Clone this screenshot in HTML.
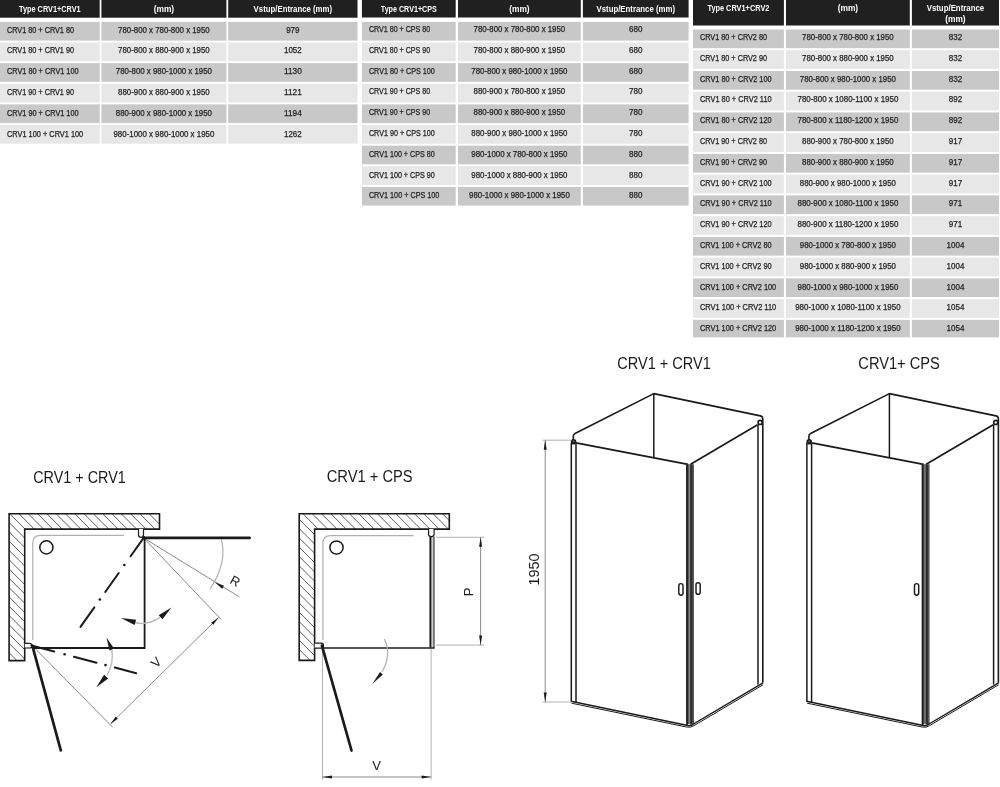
<!DOCTYPE html>
<html lang="cs"><head><meta charset="utf-8"><title>CRV1 – rozměry / dimensions</title>
<style>
html,body{margin:0;padding:0;background:#fff;}
body{width:1000px;height:787px;overflow:hidden;}
svg{display:block;}
svg text{font-family:"Liberation Sans",Arial,Helvetica,sans-serif;}
svg{filter:grayscale(1);}
</style></head><body>
<svg width="1000" height="787" viewBox="0 0 1000 787">
<rect width="1000" height="787" fill="#ffffff"/>
<g class="tbl">
<rect x="0.00" y="0.00" width="99.70" height="17.70" fill="#231f20"/>
<rect x="101.40" y="0.00" width="125.00" height="17.70" fill="#231f20"/>
<rect x="228.20" y="0.00" width="129.30" height="17.70" fill="#231f20"/>
<text x="49.85" y="12.20" font-size="8.3" text-anchor="middle" fill="#fff" font-weight="bold" textLength="61.5" lengthAdjust="spacingAndGlyphs">Type CRV1+CRV1</text>
<text x="163.90" y="12.20" font-size="8.3" text-anchor="middle" fill="#fff" font-weight="bold" textLength="20.5" lengthAdjust="spacingAndGlyphs">(mm)</text>
<text x="292.85" y="12.20" font-size="8.3" text-anchor="middle" fill="#fff" font-weight="bold" textLength="78.5" lengthAdjust="spacingAndGlyphs">Vstup/Entrance (mm)</text>
<rect x="0.00" y="21.90" width="99.70" height="18.70" fill="#c7c8ca"/>
<rect x="101.40" y="21.90" width="125.00" height="18.70" fill="#c7c8ca"/>
<rect x="228.20" y="21.90" width="129.30" height="18.70" fill="#c7c8ca"/>
<text x="7.00" y="32.50" font-size="8.3" text-anchor="start" fill="#231f20" font-weight="normal" stroke="#231f20" stroke-width="0.25" textLength="67.0" lengthAdjust="spacingAndGlyphs">CRV1 80 + CRV1 80</text>
<text x="163.90" y="32.50" font-size="8.3" text-anchor="middle" fill="#231f20" font-weight="normal" stroke="#231f20" stroke-width="0.25" textLength="91.6" lengthAdjust="spacingAndGlyphs">780-800 x 780-800 x 1950</text>
<text x="292.85" y="32.50" font-size="8.3" text-anchor="middle" fill="#231f20" font-weight="normal" stroke="#231f20" stroke-width="0.25" textLength="13.4" lengthAdjust="spacingAndGlyphs">979</text>
<rect x="0.00" y="42.52" width="99.70" height="18.70" fill="#e6e7e8"/>
<rect x="101.40" y="42.52" width="125.00" height="18.70" fill="#e6e7e8"/>
<rect x="228.20" y="42.52" width="129.30" height="18.70" fill="#e6e7e8"/>
<text x="7.00" y="53.30" font-size="8.3" text-anchor="start" fill="#231f20" font-weight="normal" stroke="#231f20" stroke-width="0.25" textLength="67.0" lengthAdjust="spacingAndGlyphs">CRV1 80 + CRV1 90</text>
<text x="163.90" y="53.30" font-size="8.3" text-anchor="middle" fill="#231f20" font-weight="normal" stroke="#231f20" stroke-width="0.25" textLength="91.6" lengthAdjust="spacingAndGlyphs">780-800 x 880-900 x 1950</text>
<text x="292.85" y="53.30" font-size="8.3" text-anchor="middle" fill="#231f20" font-weight="normal" stroke="#231f20" stroke-width="0.25" textLength="17.8" lengthAdjust="spacingAndGlyphs">1052</text>
<rect x="0.00" y="63.14" width="99.70" height="18.70" fill="#c7c8ca"/>
<rect x="101.40" y="63.14" width="125.00" height="18.70" fill="#c7c8ca"/>
<rect x="228.20" y="63.14" width="129.30" height="18.70" fill="#c7c8ca"/>
<text x="7.00" y="74.10" font-size="8.3" text-anchor="start" fill="#231f20" font-weight="normal" stroke="#231f20" stroke-width="0.25" textLength="71.6" lengthAdjust="spacingAndGlyphs">CRV1 80 + CRV1 100</text>
<text x="163.90" y="74.10" font-size="8.3" text-anchor="middle" fill="#231f20" font-weight="normal" stroke="#231f20" stroke-width="0.25" textLength="96.2" lengthAdjust="spacingAndGlyphs">780-800 x 980-1000 x 1950</text>
<text x="292.85" y="74.10" font-size="8.3" text-anchor="middle" fill="#231f20" font-weight="normal" stroke="#231f20" stroke-width="0.25" textLength="17.8" lengthAdjust="spacingAndGlyphs">1130</text>
<rect x="0.00" y="83.76" width="99.70" height="18.70" fill="#e6e7e8"/>
<rect x="101.40" y="83.76" width="125.00" height="18.70" fill="#e6e7e8"/>
<rect x="228.20" y="83.76" width="129.30" height="18.70" fill="#e6e7e8"/>
<text x="7.00" y="94.90" font-size="8.3" text-anchor="start" fill="#231f20" font-weight="normal" stroke="#231f20" stroke-width="0.25" textLength="67.0" lengthAdjust="spacingAndGlyphs">CRV1 90 + CRV1 90</text>
<text x="163.90" y="94.90" font-size="8.3" text-anchor="middle" fill="#231f20" font-weight="normal" stroke="#231f20" stroke-width="0.25" textLength="91.6" lengthAdjust="spacingAndGlyphs">880-900 x 880-900 x 1950</text>
<text x="292.85" y="94.90" font-size="8.3" text-anchor="middle" fill="#231f20" font-weight="normal" stroke="#231f20" stroke-width="0.25" textLength="17.8" lengthAdjust="spacingAndGlyphs">1121</text>
<rect x="0.00" y="104.38" width="99.70" height="18.70" fill="#c7c8ca"/>
<rect x="101.40" y="104.38" width="125.00" height="18.70" fill="#c7c8ca"/>
<rect x="228.20" y="104.38" width="129.30" height="18.70" fill="#c7c8ca"/>
<text x="7.00" y="115.70" font-size="8.3" text-anchor="start" fill="#231f20" font-weight="normal" stroke="#231f20" stroke-width="0.25" textLength="71.6" lengthAdjust="spacingAndGlyphs">CRV1 90 + CRV1 100</text>
<text x="163.90" y="115.70" font-size="8.3" text-anchor="middle" fill="#231f20" font-weight="normal" stroke="#231f20" stroke-width="0.25" textLength="96.2" lengthAdjust="spacingAndGlyphs">880-900 x 980-1000 x 1950</text>
<text x="292.85" y="115.70" font-size="8.3" text-anchor="middle" fill="#231f20" font-weight="normal" stroke="#231f20" stroke-width="0.25" textLength="17.8" lengthAdjust="spacingAndGlyphs">1194</text>
<rect x="0.00" y="125.00" width="99.70" height="18.70" fill="#e6e7e8"/>
<rect x="101.40" y="125.00" width="125.00" height="18.70" fill="#e6e7e8"/>
<rect x="228.20" y="125.00" width="129.30" height="18.70" fill="#e6e7e8"/>
<text x="7.00" y="136.50" font-size="8.3" text-anchor="start" fill="#231f20" font-weight="normal" stroke="#231f20" stroke-width="0.25" textLength="76.2" lengthAdjust="spacingAndGlyphs">CRV1 100 + CRV1 100</text>
<text x="163.90" y="136.50" font-size="8.3" text-anchor="middle" fill="#231f20" font-weight="normal" stroke="#231f20" stroke-width="0.25" textLength="100.8" lengthAdjust="spacingAndGlyphs">980-1000 x 980-1000 x 1950</text>
<text x="292.85" y="136.50" font-size="8.3" text-anchor="middle" fill="#231f20" font-weight="normal" stroke="#231f20" stroke-width="0.25" textLength="17.8" lengthAdjust="spacingAndGlyphs">1262</text>
<rect x="361.90" y="0.00" width="93.80" height="17.50" fill="#231f20"/>
<rect x="458.00" y="0.00" width="122.80" height="17.50" fill="#231f20"/>
<rect x="582.90" y="0.00" width="105.70" height="17.50" fill="#231f20"/>
<text x="408.80" y="12.00" font-size="8.3" text-anchor="middle" fill="#fff" font-weight="bold" textLength="56.0" lengthAdjust="spacingAndGlyphs">Type CRV1+CPS</text>
<text x="519.40" y="12.00" font-size="8.3" text-anchor="middle" fill="#fff" font-weight="bold" textLength="20.5" lengthAdjust="spacingAndGlyphs">(mm)</text>
<text x="635.75" y="12.00" font-size="8.3" text-anchor="middle" fill="#fff" font-weight="bold" textLength="78.5" lengthAdjust="spacingAndGlyphs">Vstup/Entrance (mm)</text>
<rect x="361.90" y="21.90" width="93.80" height="18.70" fill="#c7c8ca"/>
<rect x="458.00" y="21.90" width="122.80" height="18.70" fill="#c7c8ca"/>
<rect x="582.90" y="21.90" width="105.70" height="18.70" fill="#c7c8ca"/>
<text x="368.90" y="31.90" font-size="8.3" text-anchor="start" fill="#231f20" font-weight="normal" stroke="#231f20" stroke-width="0.25" textLength="61.3" lengthAdjust="spacingAndGlyphs">CRV1 80 + CPS 80</text>
<text x="519.40" y="31.90" font-size="8.3" text-anchor="middle" fill="#231f20" font-weight="normal" stroke="#231f20" stroke-width="0.25" textLength="91.6" lengthAdjust="spacingAndGlyphs">780-800 x 780-800 x 1950</text>
<text x="635.75" y="31.90" font-size="8.3" text-anchor="middle" fill="#231f20" font-weight="normal" stroke="#231f20" stroke-width="0.25" textLength="13.4" lengthAdjust="spacingAndGlyphs">680</text>
<rect x="361.90" y="42.52" width="93.80" height="18.70" fill="#e6e7e8"/>
<rect x="458.00" y="42.52" width="122.80" height="18.70" fill="#e6e7e8"/>
<rect x="582.90" y="42.52" width="105.70" height="18.70" fill="#e6e7e8"/>
<text x="368.90" y="52.70" font-size="8.3" text-anchor="start" fill="#231f20" font-weight="normal" stroke="#231f20" stroke-width="0.25" textLength="61.3" lengthAdjust="spacingAndGlyphs">CRV1 80 + CPS 90</text>
<text x="519.40" y="52.70" font-size="8.3" text-anchor="middle" fill="#231f20" font-weight="normal" stroke="#231f20" stroke-width="0.25" textLength="91.6" lengthAdjust="spacingAndGlyphs">780-800 x 880-900 x 1950</text>
<text x="635.75" y="52.70" font-size="8.3" text-anchor="middle" fill="#231f20" font-weight="normal" stroke="#231f20" stroke-width="0.25" textLength="13.4" lengthAdjust="spacingAndGlyphs">680</text>
<rect x="361.90" y="63.15" width="93.80" height="18.70" fill="#c7c8ca"/>
<rect x="458.00" y="63.15" width="122.80" height="18.70" fill="#c7c8ca"/>
<rect x="582.90" y="63.15" width="105.70" height="18.70" fill="#c7c8ca"/>
<text x="368.90" y="73.50" font-size="8.3" text-anchor="start" fill="#231f20" font-weight="normal" stroke="#231f20" stroke-width="0.25" textLength="65.9" lengthAdjust="spacingAndGlyphs">CRV1 80 + CPS 100</text>
<text x="519.40" y="73.50" font-size="8.3" text-anchor="middle" fill="#231f20" font-weight="normal" stroke="#231f20" stroke-width="0.25" textLength="96.2" lengthAdjust="spacingAndGlyphs">780-800 x 980-1000 x 1950</text>
<text x="635.75" y="73.50" font-size="8.3" text-anchor="middle" fill="#231f20" font-weight="normal" stroke="#231f20" stroke-width="0.25" textLength="13.4" lengthAdjust="spacingAndGlyphs">680</text>
<rect x="361.90" y="83.78" width="93.80" height="18.70" fill="#e6e7e8"/>
<rect x="458.00" y="83.78" width="122.80" height="18.70" fill="#e6e7e8"/>
<rect x="582.90" y="83.78" width="105.70" height="18.70" fill="#e6e7e8"/>
<text x="368.90" y="94.30" font-size="8.3" text-anchor="start" fill="#231f20" font-weight="normal" stroke="#231f20" stroke-width="0.25" textLength="61.3" lengthAdjust="spacingAndGlyphs">CRV1 90 + CPS 80</text>
<text x="519.40" y="94.30" font-size="8.3" text-anchor="middle" fill="#231f20" font-weight="normal" stroke="#231f20" stroke-width="0.25" textLength="91.6" lengthAdjust="spacingAndGlyphs">880-900 x 780-800 x 1950</text>
<text x="635.75" y="94.30" font-size="8.3" text-anchor="middle" fill="#231f20" font-weight="normal" stroke="#231f20" stroke-width="0.25" textLength="13.4" lengthAdjust="spacingAndGlyphs">780</text>
<rect x="361.90" y="104.40" width="93.80" height="18.70" fill="#c7c8ca"/>
<rect x="458.00" y="104.40" width="122.80" height="18.70" fill="#c7c8ca"/>
<rect x="582.90" y="104.40" width="105.70" height="18.70" fill="#c7c8ca"/>
<text x="368.90" y="115.10" font-size="8.3" text-anchor="start" fill="#231f20" font-weight="normal" stroke="#231f20" stroke-width="0.25" textLength="61.3" lengthAdjust="spacingAndGlyphs">CRV1 90 + CPS 90</text>
<text x="519.40" y="115.10" font-size="8.3" text-anchor="middle" fill="#231f20" font-weight="normal" stroke="#231f20" stroke-width="0.25" textLength="91.6" lengthAdjust="spacingAndGlyphs">880-900 x 880-900 x 1950</text>
<text x="635.75" y="115.10" font-size="8.3" text-anchor="middle" fill="#231f20" font-weight="normal" stroke="#231f20" stroke-width="0.25" textLength="13.4" lengthAdjust="spacingAndGlyphs">780</text>
<rect x="361.90" y="125.03" width="93.80" height="18.70" fill="#e6e7e8"/>
<rect x="458.00" y="125.03" width="122.80" height="18.70" fill="#e6e7e8"/>
<rect x="582.90" y="125.03" width="105.70" height="18.70" fill="#e6e7e8"/>
<text x="368.90" y="135.90" font-size="8.3" text-anchor="start" fill="#231f20" font-weight="normal" stroke="#231f20" stroke-width="0.25" textLength="65.9" lengthAdjust="spacingAndGlyphs">CRV1 90 + CPS 100</text>
<text x="519.40" y="135.90" font-size="8.3" text-anchor="middle" fill="#231f20" font-weight="normal" stroke="#231f20" stroke-width="0.25" textLength="96.2" lengthAdjust="spacingAndGlyphs">880-900 x 980-1000 x 1950</text>
<text x="635.75" y="135.90" font-size="8.3" text-anchor="middle" fill="#231f20" font-weight="normal" stroke="#231f20" stroke-width="0.25" textLength="13.4" lengthAdjust="spacingAndGlyphs">780</text>
<rect x="361.90" y="145.65" width="93.80" height="18.70" fill="#c7c8ca"/>
<rect x="458.00" y="145.65" width="122.80" height="18.70" fill="#c7c8ca"/>
<rect x="582.90" y="145.65" width="105.70" height="18.70" fill="#c7c8ca"/>
<text x="368.90" y="156.70" font-size="8.3" text-anchor="start" fill="#231f20" font-weight="normal" stroke="#231f20" stroke-width="0.25" textLength="65.9" lengthAdjust="spacingAndGlyphs">CRV1 100 + CPS 80</text>
<text x="519.40" y="156.70" font-size="8.3" text-anchor="middle" fill="#231f20" font-weight="normal" stroke="#231f20" stroke-width="0.25" textLength="96.2" lengthAdjust="spacingAndGlyphs">980-1000 x 780-800 x 1950</text>
<text x="635.75" y="156.70" font-size="8.3" text-anchor="middle" fill="#231f20" font-weight="normal" stroke="#231f20" stroke-width="0.25" textLength="13.4" lengthAdjust="spacingAndGlyphs">880</text>
<rect x="361.90" y="166.28" width="93.80" height="18.70" fill="#e6e7e8"/>
<rect x="458.00" y="166.28" width="122.80" height="18.70" fill="#e6e7e8"/>
<rect x="582.90" y="166.28" width="105.70" height="18.70" fill="#e6e7e8"/>
<text x="368.90" y="177.50" font-size="8.3" text-anchor="start" fill="#231f20" font-weight="normal" stroke="#231f20" stroke-width="0.25" textLength="65.9" lengthAdjust="spacingAndGlyphs">CRV1 100 + CPS 90</text>
<text x="519.40" y="177.50" font-size="8.3" text-anchor="middle" fill="#231f20" font-weight="normal" stroke="#231f20" stroke-width="0.25" textLength="96.2" lengthAdjust="spacingAndGlyphs">980-1000 x 880-900 x 1950</text>
<text x="635.75" y="177.50" font-size="8.3" text-anchor="middle" fill="#231f20" font-weight="normal" stroke="#231f20" stroke-width="0.25" textLength="13.4" lengthAdjust="spacingAndGlyphs">880</text>
<rect x="361.90" y="186.90" width="93.80" height="18.70" fill="#c7c8ca"/>
<rect x="458.00" y="186.90" width="122.80" height="18.70" fill="#c7c8ca"/>
<rect x="582.90" y="186.90" width="105.70" height="18.70" fill="#c7c8ca"/>
<text x="368.90" y="198.30" font-size="8.3" text-anchor="start" fill="#231f20" font-weight="normal" stroke="#231f20" stroke-width="0.25" textLength="70.5" lengthAdjust="spacingAndGlyphs">CRV1 100 + CPS 100</text>
<text x="519.40" y="198.30" font-size="8.3" text-anchor="middle" fill="#231f20" font-weight="normal" stroke="#231f20" stroke-width="0.25" textLength="100.8" lengthAdjust="spacingAndGlyphs">980-1000 x 980-1000 x 1950</text>
<text x="635.75" y="198.30" font-size="8.3" text-anchor="middle" fill="#231f20" font-weight="normal" stroke="#231f20" stroke-width="0.25" textLength="13.4" lengthAdjust="spacingAndGlyphs">880</text>
<rect x="693.00" y="0.00" width="90.90" height="25.50" fill="#231f20"/>
<rect x="786.00" y="0.00" width="123.80" height="25.50" fill="#231f20"/>
<rect x="911.90" y="0.00" width="87.10" height="25.50" fill="#231f20"/>
<text x="738.45" y="11.00" font-size="8.3" text-anchor="middle" fill="#fff" font-weight="bold" textLength="62.0" lengthAdjust="spacingAndGlyphs">Type CRV1+CRV2</text>
<text x="847.90" y="11.00" font-size="8.3" text-anchor="middle" fill="#fff" font-weight="bold" textLength="20.5" lengthAdjust="spacingAndGlyphs">(mm)</text>
<text x="955.45" y="11.20" font-size="8.3" text-anchor="middle" fill="#fff" font-weight="bold" textLength="57.6" lengthAdjust="spacingAndGlyphs">Vstup/Entrance</text>
<text x="955.45" y="21.80" font-size="8.3" text-anchor="middle" fill="#fff" font-weight="bold" textLength="20.4" lengthAdjust="spacingAndGlyphs">(mm)</text>
<rect x="693.00" y="29.50" width="90.90" height="18.70" fill="#c7c8ca"/>
<rect x="786.00" y="29.50" width="123.80" height="18.70" fill="#c7c8ca"/>
<rect x="911.90" y="29.50" width="87.10" height="18.70" fill="#c7c8ca"/>
<text x="700.00" y="39.90" font-size="8.3" text-anchor="start" fill="#231f20" font-weight="normal" stroke="#231f20" stroke-width="0.25" textLength="67.0" lengthAdjust="spacingAndGlyphs">CRV1 80 + CRV2 80</text>
<text x="847.90" y="39.90" font-size="8.3" text-anchor="middle" fill="#231f20" font-weight="normal" stroke="#231f20" stroke-width="0.25" textLength="91.6" lengthAdjust="spacingAndGlyphs">780-800 x 780-800 x 1950</text>
<text x="955.45" y="39.90" font-size="8.3" text-anchor="middle" fill="#231f20" font-weight="normal" stroke="#231f20" stroke-width="0.25" textLength="13.4" lengthAdjust="spacingAndGlyphs">832</text>
<rect x="693.00" y="50.24" width="90.90" height="18.70" fill="#e6e7e8"/>
<rect x="786.00" y="50.24" width="123.80" height="18.70" fill="#e6e7e8"/>
<rect x="911.90" y="50.24" width="87.10" height="18.70" fill="#e6e7e8"/>
<text x="700.00" y="60.71" font-size="8.3" text-anchor="start" fill="#231f20" font-weight="normal" stroke="#231f20" stroke-width="0.25" textLength="67.0" lengthAdjust="spacingAndGlyphs">CRV1 80 + CRV2 90</text>
<text x="847.90" y="60.71" font-size="8.3" text-anchor="middle" fill="#231f20" font-weight="normal" stroke="#231f20" stroke-width="0.25" textLength="91.6" lengthAdjust="spacingAndGlyphs">780-800 x 880-900 x 1950</text>
<text x="955.45" y="60.71" font-size="8.3" text-anchor="middle" fill="#231f20" font-weight="normal" stroke="#231f20" stroke-width="0.25" textLength="13.4" lengthAdjust="spacingAndGlyphs">832</text>
<rect x="693.00" y="70.98" width="90.90" height="18.70" fill="#c7c8ca"/>
<rect x="786.00" y="70.98" width="123.80" height="18.70" fill="#c7c8ca"/>
<rect x="911.90" y="70.98" width="87.10" height="18.70" fill="#c7c8ca"/>
<text x="700.00" y="81.52" font-size="8.3" text-anchor="start" fill="#231f20" font-weight="normal" stroke="#231f20" stroke-width="0.25" textLength="71.6" lengthAdjust="spacingAndGlyphs">CRV1 80 + CRV2 100</text>
<text x="847.90" y="81.52" font-size="8.3" text-anchor="middle" fill="#231f20" font-weight="normal" stroke="#231f20" stroke-width="0.25" textLength="96.2" lengthAdjust="spacingAndGlyphs">780-800 x 980-1000 x 1950</text>
<text x="955.45" y="81.52" font-size="8.3" text-anchor="middle" fill="#231f20" font-weight="normal" stroke="#231f20" stroke-width="0.25" textLength="13.4" lengthAdjust="spacingAndGlyphs">832</text>
<rect x="693.00" y="91.72" width="90.90" height="18.70" fill="#e6e7e8"/>
<rect x="786.00" y="91.72" width="123.80" height="18.70" fill="#e6e7e8"/>
<rect x="911.90" y="91.72" width="87.10" height="18.70" fill="#e6e7e8"/>
<text x="700.00" y="102.33" font-size="8.3" text-anchor="start" fill="#231f20" font-weight="normal" stroke="#231f20" stroke-width="0.25" textLength="71.6" lengthAdjust="spacingAndGlyphs">CRV1 80 + CRV2 110</text>
<text x="847.90" y="102.33" font-size="8.3" text-anchor="middle" fill="#231f20" font-weight="normal" stroke="#231f20" stroke-width="0.25" textLength="100.8" lengthAdjust="spacingAndGlyphs">780-800 x 1080-1100 x 1950</text>
<text x="955.45" y="102.33" font-size="8.3" text-anchor="middle" fill="#231f20" font-weight="normal" stroke="#231f20" stroke-width="0.25" textLength="13.4" lengthAdjust="spacingAndGlyphs">892</text>
<rect x="693.00" y="112.46" width="90.90" height="18.70" fill="#c7c8ca"/>
<rect x="786.00" y="112.46" width="123.80" height="18.70" fill="#c7c8ca"/>
<rect x="911.90" y="112.46" width="87.10" height="18.70" fill="#c7c8ca"/>
<text x="700.00" y="123.14" font-size="8.3" text-anchor="start" fill="#231f20" font-weight="normal" stroke="#231f20" stroke-width="0.25" textLength="71.6" lengthAdjust="spacingAndGlyphs">CRV1 80 + CRV2 120</text>
<text x="847.90" y="123.14" font-size="8.3" text-anchor="middle" fill="#231f20" font-weight="normal" stroke="#231f20" stroke-width="0.25" textLength="100.8" lengthAdjust="spacingAndGlyphs">780-800 x 1180-1200 x 1950</text>
<text x="955.45" y="123.14" font-size="8.3" text-anchor="middle" fill="#231f20" font-weight="normal" stroke="#231f20" stroke-width="0.25" textLength="13.4" lengthAdjust="spacingAndGlyphs">892</text>
<rect x="693.00" y="133.20" width="90.90" height="18.70" fill="#e6e7e8"/>
<rect x="786.00" y="133.20" width="123.80" height="18.70" fill="#e6e7e8"/>
<rect x="911.90" y="133.20" width="87.10" height="18.70" fill="#e6e7e8"/>
<text x="700.00" y="143.95" font-size="8.3" text-anchor="start" fill="#231f20" font-weight="normal" stroke="#231f20" stroke-width="0.25" textLength="67.0" lengthAdjust="spacingAndGlyphs">CRV1 90 + CRV2 80</text>
<text x="847.90" y="143.95" font-size="8.3" text-anchor="middle" fill="#231f20" font-weight="normal" stroke="#231f20" stroke-width="0.25" textLength="91.6" lengthAdjust="spacingAndGlyphs">880-900 x 780-800 x 1950</text>
<text x="955.45" y="143.95" font-size="8.3" text-anchor="middle" fill="#231f20" font-weight="normal" stroke="#231f20" stroke-width="0.25" textLength="13.4" lengthAdjust="spacingAndGlyphs">917</text>
<rect x="693.00" y="153.94" width="90.90" height="18.70" fill="#c7c8ca"/>
<rect x="786.00" y="153.94" width="123.80" height="18.70" fill="#c7c8ca"/>
<rect x="911.90" y="153.94" width="87.10" height="18.70" fill="#c7c8ca"/>
<text x="700.00" y="164.76" font-size="8.3" text-anchor="start" fill="#231f20" font-weight="normal" stroke="#231f20" stroke-width="0.25" textLength="67.0" lengthAdjust="spacingAndGlyphs">CRV1 90 + CRV2 90</text>
<text x="847.90" y="164.76" font-size="8.3" text-anchor="middle" fill="#231f20" font-weight="normal" stroke="#231f20" stroke-width="0.25" textLength="91.6" lengthAdjust="spacingAndGlyphs">880-900 x 880-900 x 1950</text>
<text x="955.45" y="164.76" font-size="8.3" text-anchor="middle" fill="#231f20" font-weight="normal" stroke="#231f20" stroke-width="0.25" textLength="13.4" lengthAdjust="spacingAndGlyphs">917</text>
<rect x="693.00" y="174.68" width="90.90" height="18.70" fill="#e6e7e8"/>
<rect x="786.00" y="174.68" width="123.80" height="18.70" fill="#e6e7e8"/>
<rect x="911.90" y="174.68" width="87.10" height="18.70" fill="#e6e7e8"/>
<text x="700.00" y="185.57" font-size="8.3" text-anchor="start" fill="#231f20" font-weight="normal" stroke="#231f20" stroke-width="0.25" textLength="71.6" lengthAdjust="spacingAndGlyphs">CRV1 90 + CRV2 100</text>
<text x="847.90" y="185.57" font-size="8.3" text-anchor="middle" fill="#231f20" font-weight="normal" stroke="#231f20" stroke-width="0.25" textLength="96.2" lengthAdjust="spacingAndGlyphs">880-900 x 980-1000 x 1950</text>
<text x="955.45" y="185.57" font-size="8.3" text-anchor="middle" fill="#231f20" font-weight="normal" stroke="#231f20" stroke-width="0.25" textLength="13.4" lengthAdjust="spacingAndGlyphs">917</text>
<rect x="693.00" y="195.42" width="90.90" height="18.70" fill="#c7c8ca"/>
<rect x="786.00" y="195.42" width="123.80" height="18.70" fill="#c7c8ca"/>
<rect x="911.90" y="195.42" width="87.10" height="18.70" fill="#c7c8ca"/>
<text x="700.00" y="206.38" font-size="8.3" text-anchor="start" fill="#231f20" font-weight="normal" stroke="#231f20" stroke-width="0.25" textLength="71.6" lengthAdjust="spacingAndGlyphs">CRV1 90 + CRV2 110</text>
<text x="847.90" y="206.38" font-size="8.3" text-anchor="middle" fill="#231f20" font-weight="normal" stroke="#231f20" stroke-width="0.25" textLength="100.8" lengthAdjust="spacingAndGlyphs">880-900 x 1080-1100 x 1950</text>
<text x="955.45" y="206.38" font-size="8.3" text-anchor="middle" fill="#231f20" font-weight="normal" stroke="#231f20" stroke-width="0.25" textLength="13.4" lengthAdjust="spacingAndGlyphs">971</text>
<rect x="693.00" y="216.16" width="90.90" height="18.70" fill="#e6e7e8"/>
<rect x="786.00" y="216.16" width="123.80" height="18.70" fill="#e6e7e8"/>
<rect x="911.90" y="216.16" width="87.10" height="18.70" fill="#e6e7e8"/>
<text x="700.00" y="227.19" font-size="8.3" text-anchor="start" fill="#231f20" font-weight="normal" stroke="#231f20" stroke-width="0.25" textLength="71.6" lengthAdjust="spacingAndGlyphs">CRV1 90 + CRV2 120</text>
<text x="847.90" y="227.19" font-size="8.3" text-anchor="middle" fill="#231f20" font-weight="normal" stroke="#231f20" stroke-width="0.25" textLength="100.8" lengthAdjust="spacingAndGlyphs">880-900 x 1180-1200 x 1950</text>
<text x="955.45" y="227.19" font-size="8.3" text-anchor="middle" fill="#231f20" font-weight="normal" stroke="#231f20" stroke-width="0.25" textLength="13.4" lengthAdjust="spacingAndGlyphs">971</text>
<rect x="693.00" y="236.90" width="90.90" height="18.70" fill="#c7c8ca"/>
<rect x="786.00" y="236.90" width="123.80" height="18.70" fill="#c7c8ca"/>
<rect x="911.90" y="236.90" width="87.10" height="18.70" fill="#c7c8ca"/>
<text x="700.00" y="248.00" font-size="8.3" text-anchor="start" fill="#231f20" font-weight="normal" stroke="#231f20" stroke-width="0.25" textLength="71.6" lengthAdjust="spacingAndGlyphs">CRV1 100 + CRV2 80</text>
<text x="847.90" y="248.00" font-size="8.3" text-anchor="middle" fill="#231f20" font-weight="normal" stroke="#231f20" stroke-width="0.25" textLength="96.2" lengthAdjust="spacingAndGlyphs">980-1000 x 780-800 x 1950</text>
<text x="955.45" y="248.00" font-size="8.3" text-anchor="middle" fill="#231f20" font-weight="normal" stroke="#231f20" stroke-width="0.25" textLength="17.8" lengthAdjust="spacingAndGlyphs">1004</text>
<rect x="693.00" y="257.64" width="90.90" height="18.70" fill="#e6e7e8"/>
<rect x="786.00" y="257.64" width="123.80" height="18.70" fill="#e6e7e8"/>
<rect x="911.90" y="257.64" width="87.10" height="18.70" fill="#e6e7e8"/>
<text x="700.00" y="268.81" font-size="8.3" text-anchor="start" fill="#231f20" font-weight="normal" stroke="#231f20" stroke-width="0.25" textLength="71.6" lengthAdjust="spacingAndGlyphs">CRV1 100 + CRV2 90</text>
<text x="847.90" y="268.81" font-size="8.3" text-anchor="middle" fill="#231f20" font-weight="normal" stroke="#231f20" stroke-width="0.25" textLength="96.2" lengthAdjust="spacingAndGlyphs">980-1000 x 880-900 x 1950</text>
<text x="955.45" y="268.81" font-size="8.3" text-anchor="middle" fill="#231f20" font-weight="normal" stroke="#231f20" stroke-width="0.25" textLength="17.8" lengthAdjust="spacingAndGlyphs">1004</text>
<rect x="693.00" y="278.38" width="90.90" height="18.70" fill="#c7c8ca"/>
<rect x="786.00" y="278.38" width="123.80" height="18.70" fill="#c7c8ca"/>
<rect x="911.90" y="278.38" width="87.10" height="18.70" fill="#c7c8ca"/>
<text x="700.00" y="289.62" font-size="8.3" text-anchor="start" fill="#231f20" font-weight="normal" stroke="#231f20" stroke-width="0.25" textLength="76.2" lengthAdjust="spacingAndGlyphs">CRV1 100 + CRV2 100</text>
<text x="847.90" y="289.62" font-size="8.3" text-anchor="middle" fill="#231f20" font-weight="normal" stroke="#231f20" stroke-width="0.25" textLength="100.8" lengthAdjust="spacingAndGlyphs">980-1000 x 980-1000 x 1950</text>
<text x="955.45" y="289.62" font-size="8.3" text-anchor="middle" fill="#231f20" font-weight="normal" stroke="#231f20" stroke-width="0.25" textLength="17.8" lengthAdjust="spacingAndGlyphs">1004</text>
<rect x="693.00" y="299.12" width="90.90" height="18.70" fill="#e6e7e8"/>
<rect x="786.00" y="299.12" width="123.80" height="18.70" fill="#e6e7e8"/>
<rect x="911.90" y="299.12" width="87.10" height="18.70" fill="#e6e7e8"/>
<text x="700.00" y="310.43" font-size="8.3" text-anchor="start" fill="#231f20" font-weight="normal" stroke="#231f20" stroke-width="0.25" textLength="76.2" lengthAdjust="spacingAndGlyphs">CRV1 100 + CRV2 110</text>
<text x="847.90" y="310.43" font-size="8.3" text-anchor="middle" fill="#231f20" font-weight="normal" stroke="#231f20" stroke-width="0.25" textLength="105.4" lengthAdjust="spacingAndGlyphs">980-1000 x 1080-1100 x 1950</text>
<text x="955.45" y="310.43" font-size="8.3" text-anchor="middle" fill="#231f20" font-weight="normal" stroke="#231f20" stroke-width="0.25" textLength="17.8" lengthAdjust="spacingAndGlyphs">1054</text>
<rect x="693.00" y="319.86" width="90.90" height="17.50" fill="#c7c8ca"/>
<rect x="786.00" y="319.86" width="123.80" height="17.50" fill="#c7c8ca"/>
<rect x="911.90" y="319.86" width="87.10" height="17.50" fill="#c7c8ca"/>
<text x="700.00" y="331.24" font-size="8.3" text-anchor="start" fill="#231f20" font-weight="normal" stroke="#231f20" stroke-width="0.25" textLength="76.2" lengthAdjust="spacingAndGlyphs">CRV1 100 + CRV2 120</text>
<text x="847.90" y="331.24" font-size="8.3" text-anchor="middle" fill="#231f20" font-weight="normal" stroke="#231f20" stroke-width="0.25" textLength="105.4" lengthAdjust="spacingAndGlyphs">980-1000 x 1180-1200 x 1950</text>
<text x="955.45" y="331.24" font-size="8.3" text-anchor="middle" fill="#231f20" font-weight="normal" stroke="#231f20" stroke-width="0.25" textLength="17.8" lengthAdjust="spacingAndGlyphs">1054</text>
</g>
<g class="dw">
<text x="79.50" y="482.50" font-size="17.4" text-anchor="middle" fill="#1a1a1a" textLength="92.6" lengthAdjust="spacingAndGlyphs">CRV1 + CRV1</text>
<clipPath id="wc1"><polygon points="9.1,513.7 159.5,513.7 159.5,529.1 24.7,529.1 24.7,660.6 9.1,660.6"/></clipPath>
<g clip-path="url(#wc1)" stroke="#404040" stroke-width="0.85">
<line x1="-157.80" y1="513.7" x2="-10.90" y2="660.6"/>
<line x1="-148.50" y1="513.7" x2="-1.60" y2="660.6"/>
<line x1="-139.20" y1="513.7" x2="7.70" y2="660.6"/>
<line x1="-129.90" y1="513.7" x2="17.00" y2="660.6"/>
<line x1="-120.60" y1="513.7" x2="26.30" y2="660.6"/>
<line x1="-111.30" y1="513.7" x2="35.60" y2="660.6"/>
<line x1="-102.00" y1="513.7" x2="44.90" y2="660.6"/>
<line x1="-92.70" y1="513.7" x2="54.20" y2="660.6"/>
<line x1="-83.40" y1="513.7" x2="63.50" y2="660.6"/>
<line x1="-74.10" y1="513.7" x2="72.80" y2="660.6"/>
<line x1="-64.80" y1="513.7" x2="82.10" y2="660.6"/>
<line x1="-55.50" y1="513.7" x2="91.40" y2="660.6"/>
<line x1="-46.20" y1="513.7" x2="100.70" y2="660.6"/>
<line x1="-36.90" y1="513.7" x2="110.00" y2="660.6"/>
<line x1="-27.60" y1="513.7" x2="119.30" y2="660.6"/>
<line x1="-18.30" y1="513.7" x2="128.60" y2="660.6"/>
<line x1="-9.00" y1="513.7" x2="137.90" y2="660.6"/>
<line x1="0.30" y1="513.7" x2="147.20" y2="660.6"/>
<line x1="9.60" y1="513.7" x2="156.50" y2="660.6"/>
<line x1="18.90" y1="513.7" x2="165.80" y2="660.6"/>
<line x1="28.20" y1="513.7" x2="175.10" y2="660.6"/>
<line x1="37.50" y1="513.7" x2="184.40" y2="660.6"/>
<line x1="46.80" y1="513.7" x2="193.70" y2="660.6"/>
<line x1="56.10" y1="513.7" x2="203.00" y2="660.6"/>
<line x1="65.40" y1="513.7" x2="212.30" y2="660.6"/>
<line x1="74.70" y1="513.7" x2="221.60" y2="660.6"/>
<line x1="84.00" y1="513.7" x2="230.90" y2="660.6"/>
<line x1="93.30" y1="513.7" x2="240.20" y2="660.6"/>
<line x1="102.60" y1="513.7" x2="249.50" y2="660.6"/>
<line x1="111.90" y1="513.7" x2="258.80" y2="660.6"/>
<line x1="121.20" y1="513.7" x2="268.10" y2="660.6"/>
<line x1="130.50" y1="513.7" x2="277.40" y2="660.6"/>
<line x1="139.80" y1="513.7" x2="286.70" y2="660.6"/>
<line x1="149.10" y1="513.7" x2="296.00" y2="660.6"/>
<line x1="158.40" y1="513.7" x2="305.30" y2="660.6"/>
<line x1="167.70" y1="513.7" x2="314.60" y2="660.6"/>
</g>
<polygon points="9.1,513.7 159.5,513.7 159.5,529.1 24.7,529.1 24.7,660.6 9.1,660.6" fill="none" stroke="#1a1a1a" stroke-width="1.6"/>
<path d="M124,535.3 H40.3 Q32.8,535.3 32.8,542.8 V640" stroke="#b0b0b0" stroke-width="1.2" fill="none" />
<circle cx="46.4" cy="547.4" r="6.6" fill="none" stroke="#1a1a1a" stroke-width="1.5"/>
<line x1="143.60" y1="537.90" x2="239.40" y2="596.90" stroke="#8a8a8a" stroke-width="1.0" stroke-linecap="butt"/>
<line x1="143.60" y1="537.90" x2="221.40" y2="619.80" stroke="#8a8a8a" stroke-width="1.0" stroke-linecap="butt"/>
<line x1="32.40" y1="645.80" x2="112.60" y2="727.20" stroke="#8a8a8a" stroke-width="1.0" stroke-linecap="butt"/>
<line x1="218.60" y1="617.40" x2="110.40" y2="724.00" stroke="#8a8a8a" stroke-width="1.0" stroke-linecap="butt"/>
<polygon points="218.60,617.40 211.14,622.65 213.24,624.78" fill="#1a1a1a"/>
<polygon points="110.40,724.00 117.86,718.75 115.76,716.62" fill="#1a1a1a"/>
<path d="M221.3,539.3 Q227.5,562 210.3,588.7" stroke="#b0b0b0" stroke-width="1.2" fill="none" />
<polygon points="214.90,582.30 222.13,588.87 224.02,585.80" fill="#1a1a1a"/>
<text x="233.00" y="585.00" font-size="12.8" text-anchor="middle" fill="#1a1a1a" transform="rotate(29 233.00 585.00)">R</text>
<path d="M144.6,538 V648 H32" stroke="#1a1a1a" stroke-width="1.8" fill="none" />
<path d="M138.5,529 V535 Q138.5,537.3 141,537.3 Q143.5,537.3 143.5,535 V529" stroke="#1a1a1a" stroke-width="1.2" fill="#fff" />
<path d="M24.8,643.3 H29.5 Q32,643.3 32,645.7 Q32,648 29.5,648 H24.8" stroke="#1a1a1a" stroke-width="1.2" fill="#fff" />
<line x1="144.18" y1="537.08" x2="130.59" y2="556.25" stroke="#1a1a1a" stroke-width="2.0" stroke-linecap="round"/>
<line x1="118.73" y1="572.98" x2="105.25" y2="591.99" stroke="#1a1a1a" stroke-width="2.0" stroke-linecap="round"/>
<line x1="94.32" y1="607.40" x2="80.50" y2="626.90" stroke="#1a1a1a" stroke-width="2.0" stroke-linecap="round"/>
<circle cx="124.34" cy="565.07" r="1.3" fill="#1a1a1a"/>
<circle cx="99.87" cy="599.57" r="1.3" fill="#1a1a1a"/>
<line x1="31.43" y1="645.54" x2="54.15" y2="651.54" stroke="#1a1a1a" stroke-width="2.0" stroke-linecap="round"/>
<line x1="73.98" y1="656.77" x2="96.50" y2="662.72" stroke="#1a1a1a" stroke-width="2.0" stroke-linecap="round"/>
<line x1="114.78" y1="667.55" x2="136.20" y2="673.20" stroke="#1a1a1a" stroke-width="2.0" stroke-linecap="round"/>
<circle cx="64.60" cy="654.30" r="1.3" fill="#1a1a1a"/>
<circle cx="105.50" cy="665.10" r="1.3" fill="#1a1a1a"/>
<path d="M134,622.2 Q146.5,626 160,617.6" stroke="#bdbdbd" stroke-width="1.5" fill="none" />
<polygon points="121.00,618.00 134.58,624.89 136.12,619.82" fill="#1a1a1a"/>
<polygon points="171.40,607.50 158.74,615.27 162.44,619.35" fill="#1a1a1a"/>
<path d="M111.7,649 Q114.3,662 107,675.5" stroke="#bdbdbd" stroke-width="1.5" fill="none" />
<polygon points="106.50,637.60 109.45,650.50 114.03,648.49" fill="#1a1a1a"/>
<polygon points="96.30,687.20 108.14,678.55 104.11,674.80" fill="#1a1a1a"/>
<line x1="143.60" y1="537.90" x2="249.60" y2="537.90" stroke="#1a1a1a" stroke-width="2.7" stroke-linecap="round"/>
<line x1="32.40" y1="645.80" x2="60.80" y2="750.40" stroke="#1a1a1a" stroke-width="2.7" stroke-linecap="round"/>
<text x="159.30" y="665.70" font-size="13.2" text-anchor="middle" fill="#1a1a1a" transform="rotate(-45 159.30 665.70)">V</text>
<text x="369.70" y="482.00" font-size="17.4" text-anchor="middle" fill="#1a1a1a" textLength="86.0" lengthAdjust="spacingAndGlyphs">CRV1 + CPS</text>
<clipPath id="wc2"><polygon points="299.2,513.7 449.3,513.7 449.3,529.1 314.6,529.1 314.6,660.4 299.2,660.4"/></clipPath>
<g clip-path="url(#wc2)" stroke="#404040" stroke-width="0.85">
<line x1="135.50" y1="513.7" x2="282.20" y2="660.4"/>
<line x1="144.80" y1="513.7" x2="291.50" y2="660.4"/>
<line x1="154.10" y1="513.7" x2="300.80" y2="660.4"/>
<line x1="163.40" y1="513.7" x2="310.10" y2="660.4"/>
<line x1="172.70" y1="513.7" x2="319.40" y2="660.4"/>
<line x1="182.00" y1="513.7" x2="328.70" y2="660.4"/>
<line x1="191.30" y1="513.7" x2="338.00" y2="660.4"/>
<line x1="200.60" y1="513.7" x2="347.30" y2="660.4"/>
<line x1="209.90" y1="513.7" x2="356.60" y2="660.4"/>
<line x1="219.20" y1="513.7" x2="365.90" y2="660.4"/>
<line x1="228.50" y1="513.7" x2="375.20" y2="660.4"/>
<line x1="237.80" y1="513.7" x2="384.50" y2="660.4"/>
<line x1="247.10" y1="513.7" x2="393.80" y2="660.4"/>
<line x1="256.40" y1="513.7" x2="403.10" y2="660.4"/>
<line x1="265.70" y1="513.7" x2="412.40" y2="660.4"/>
<line x1="275.00" y1="513.7" x2="421.70" y2="660.4"/>
<line x1="284.30" y1="513.7" x2="431.00" y2="660.4"/>
<line x1="293.60" y1="513.7" x2="440.30" y2="660.4"/>
<line x1="302.90" y1="513.7" x2="449.60" y2="660.4"/>
<line x1="312.20" y1="513.7" x2="458.90" y2="660.4"/>
<line x1="321.50" y1="513.7" x2="468.20" y2="660.4"/>
<line x1="330.80" y1="513.7" x2="477.50" y2="660.4"/>
<line x1="340.10" y1="513.7" x2="486.80" y2="660.4"/>
<line x1="349.40" y1="513.7" x2="496.10" y2="660.4"/>
<line x1="358.70" y1="513.7" x2="505.40" y2="660.4"/>
<line x1="368.00" y1="513.7" x2="514.70" y2="660.4"/>
<line x1="377.30" y1="513.7" x2="524.00" y2="660.4"/>
<line x1="386.60" y1="513.7" x2="533.30" y2="660.4"/>
<line x1="395.90" y1="513.7" x2="542.60" y2="660.4"/>
<line x1="405.20" y1="513.7" x2="551.90" y2="660.4"/>
<line x1="414.50" y1="513.7" x2="561.20" y2="660.4"/>
<line x1="423.80" y1="513.7" x2="570.50" y2="660.4"/>
<line x1="433.10" y1="513.7" x2="579.80" y2="660.4"/>
<line x1="442.40" y1="513.7" x2="589.10" y2="660.4"/>
<line x1="451.70" y1="513.7" x2="598.40" y2="660.4"/>
</g>
<polygon points="299.2,513.7 449.3,513.7 449.3,529.1 314.6,529.1 314.6,660.4 299.2,660.4" fill="none" stroke="#1a1a1a" stroke-width="1.6"/>
<path d="M413.6,535.6 H330.4 Q322.9,535.6 322.9,543.1 V640" stroke="#b0b0b0" stroke-width="1.2" fill="none" />
<circle cx="336.5" cy="547.5" r="6.6" fill="none" stroke="#1a1a1a" stroke-width="1.5"/>
<line x1="322.50" y1="650.00" x2="322.50" y2="779.60" stroke="#b0b0b0" stroke-width="1.0" stroke-linecap="butt"/>
<line x1="431.10" y1="649.00" x2="431.10" y2="779.60" stroke="#b0b0b0" stroke-width="1.0" stroke-linecap="butt"/>
<line x1="322.50" y1="777.00" x2="431.10" y2="777.00" stroke="#8a8a8a" stroke-width="1.0" stroke-linecap="butt"/>
<polygon points="322.50,777.00 332.00,778.50 332.00,775.50" fill="#1a1a1a"/>
<polygon points="431.10,777.00 421.60,775.50 421.60,778.50" fill="#1a1a1a"/>
<text x="376.60" y="769.80" font-size="13" text-anchor="middle" fill="#1a1a1a">V</text>
<line x1="436.00" y1="537.30" x2="484.00" y2="537.30" stroke="#b0b0b0" stroke-width="1.0" stroke-linecap="butt"/>
<line x1="436.00" y1="645.10" x2="484.00" y2="645.10" stroke="#b0b0b0" stroke-width="1.0" stroke-linecap="butt"/>
<line x1="480.60" y1="537.30" x2="480.60" y2="645.10" stroke="#8a8a8a" stroke-width="1.0" stroke-linecap="butt"/>
<polygon points="480.60,537.30 479.10,546.80 482.10,546.80" fill="#1a1a1a"/>
<polygon points="480.60,645.10 482.10,635.60 479.10,635.60" fill="#1a1a1a"/>
<text x="473.30" y="591.90" font-size="13" text-anchor="middle" fill="#1a1a1a" transform="rotate(-90 473.30 591.90)">P</text>
<rect x="430.3" y="536.6" width="3.7" height="111" fill="#cfcfcf"/>
<line x1="430.40" y1="536.60" x2="430.40" y2="647.60" stroke="#1a1a1a" stroke-width="1.9" stroke-linecap="butt"/>
<line x1="434.00" y1="536.60" x2="434.00" y2="648.10" stroke="#1a1a1a" stroke-width="1.0" stroke-linecap="butt"/>
<path d="M428.6,529 V534.3 Q428.6,536.6 431.3,536.6 Q434.1,536.6 434.1,534.3 V529" stroke="#1a1a1a" stroke-width="1.2" fill="#fff" />
<line x1="323.00" y1="648.10" x2="434.50" y2="648.10" stroke="#1a1a1a" stroke-width="1.5" stroke-linecap="butt"/>
<path d="M314.7,643.1 H321 Q323.5,643.1 323.5,645.6 Q323.5,648.1 321,648.1 H314.7" stroke="#1a1a1a" stroke-width="1.2" fill="#fff" />
<line x1="321.90" y1="645.60" x2="351.50" y2="750.50" stroke="#1a1a1a" stroke-width="2.7" stroke-linecap="round"/>
<path d="M384.4,639.1 Q392,655 382,672" stroke="#b0b0b0" stroke-width="1.2" fill="none" />
<polygon points="372.30,683.90 382.82,674.47 380.01,672.07" fill="#1a1a1a"/>
<text x="664.00" y="369.00" font-size="17.2" text-anchor="middle" fill="#1a1a1a" textLength="93.5" lengthAdjust="spacingAndGlyphs">CRV1 + CRV1</text>
<path d="M573.30,440 V436.2 Q573.30,434.4 575.00,433.5 L653.80,393.6 L760.40,415.9 Q762.80,416.4 762.80,419 V682.8" stroke="#1a1a1a" stroke-width="1.6" fill="none" stroke-linejoin="round"/>
<line x1="653.80" y1="393.70" x2="653.80" y2="457.30" stroke="#1a1a1a" stroke-width="1.5" stroke-linecap="butt"/>
<line x1="576.00" y1="442.90" x2="688.00" y2="464.40" stroke="#1a1a1a" stroke-width="1.7" stroke-linecap="butt"/>
<line x1="690.60" y1="464.30" x2="757.60" y2="424.80" stroke="#1a1a1a" stroke-width="1.7" stroke-linecap="butt"/>
<line x1="571.30" y1="443.00" x2="571.30" y2="701.80" stroke="#1a1a1a" stroke-width="1.5" stroke-linecap="butt"/>
<line x1="576.00" y1="443.50" x2="576.00" y2="702.60" stroke="#1a1a1a" stroke-width="1.5" stroke-linecap="butt"/>
<rect x="686.20" y="464.2" width="7.8" height="260" fill="#565656"/>
<line x1="687.00" y1="464.20" x2="687.00" y2="725.00" stroke="#1a1a1a" stroke-width="1.6" stroke-linecap="butt"/>
<line x1="689.40" y1="465.00" x2="689.40" y2="724.00" stroke="#909090" stroke-width="0.9" stroke-linecap="butt"/>
<line x1="691.30" y1="464.40" x2="691.30" y2="724.60" stroke="#2e2e2e" stroke-width="2.0" stroke-linecap="butt"/>
<line x1="758.00" y1="424.60" x2="758.00" y2="684.50" stroke="#1a1a1a" stroke-width="1.5" stroke-linecap="butt"/>
<path d="M570.90,701.3 L686.50,725.3 Q690.50,726.6 693.50,724 L763.00,682.9" stroke="#1a1a1a" stroke-width="1.4" fill="none" />
<path d="M571.50,703.2 L686.50,727 Q690.80,728 694.00,725.6 L763.00,684.8" stroke="#1a1a1a" stroke-width="1.0" fill="none" />
<circle cx="573.60" cy="441.8" r="2.8" fill="#1a1a1a"/>
<circle cx="573.60" cy="441.4" r="0.8" fill="#777"/>
<circle cx="760.10" cy="422.4" r="2.0" fill="#fff" stroke="#1a1a1a" stroke-width="1.6"/>
<rect x="678.80" y="583.60" width="4.2" height="11.6" rx="2.1" ry="2.1" fill="#fff" stroke="#1a1a1a" stroke-width="1.45"/>
<rect x="696.00" y="582.70" width="4.2" height="11.6" rx="2.1" ry="2.1" fill="#fff" stroke="#1a1a1a" stroke-width="1.45"/>
<text x="899.10" y="368.80" font-size="17.2" text-anchor="middle" fill="#1a1a1a" textLength="81.5" lengthAdjust="spacingAndGlyphs">CRV1+ CPS</text>
<path d="M808.90,440 V436.2 Q808.90,434.4 810.60,433.5 L889.40,393.6 L996.00,415.9 Q998.40,416.4 998.40,419 V682.8" stroke="#1a1a1a" stroke-width="1.6" fill="none" stroke-linejoin="round"/>
<line x1="889.40" y1="393.70" x2="889.40" y2="457.30" stroke="#1a1a1a" stroke-width="1.5" stroke-linecap="butt"/>
<line x1="811.60" y1="442.90" x2="923.60" y2="464.40" stroke="#1a1a1a" stroke-width="1.7" stroke-linecap="butt"/>
<line x1="926.20" y1="464.30" x2="993.20" y2="424.80" stroke="#1a1a1a" stroke-width="1.7" stroke-linecap="butt"/>
<line x1="806.90" y1="443.00" x2="806.90" y2="701.80" stroke="#1a1a1a" stroke-width="1.5" stroke-linecap="butt"/>
<line x1="811.60" y1="443.50" x2="811.60" y2="702.60" stroke="#1a1a1a" stroke-width="1.5" stroke-linecap="butt"/>
<rect x="921.80" y="464.2" width="7.8" height="260" fill="#565656"/>
<line x1="922.60" y1="464.20" x2="922.60" y2="725.00" stroke="#1a1a1a" stroke-width="1.6" stroke-linecap="butt"/>
<line x1="925.00" y1="465.00" x2="925.00" y2="724.00" stroke="#909090" stroke-width="0.9" stroke-linecap="butt"/>
<line x1="926.90" y1="464.40" x2="926.90" y2="724.60" stroke="#2e2e2e" stroke-width="2.0" stroke-linecap="butt"/>
<line x1="993.60" y1="424.60" x2="993.60" y2="684.50" stroke="#1a1a1a" stroke-width="1.5" stroke-linecap="butt"/>
<path d="M806.50,701.3 L922.10,725.3 Q926.10,726.6 929.10,724 L998.60,682.9" stroke="#1a1a1a" stroke-width="1.4" fill="none" />
<path d="M807.10,703.2 L922.10,727 Q926.40,728 929.60,725.6 L998.60,684.8" stroke="#1a1a1a" stroke-width="1.0" fill="none" />
<circle cx="809.20" cy="441.8" r="2.8" fill="#1a1a1a"/>
<circle cx="809.20" cy="441.4" r="0.8" fill="#777"/>
<circle cx="995.70" cy="422.4" r="2.0" fill="#fff" stroke="#1a1a1a" stroke-width="1.6"/>
<rect x="914.50" y="583.60" width="4.2" height="11.6" rx="2.1" ry="2.1" fill="#fff" stroke="#1a1a1a" stroke-width="1.45"/>
<line x1="542.50" y1="440.20" x2="571.50" y2="440.20" stroke="#b0b0b0" stroke-width="1.0" stroke-linecap="butt"/>
<line x1="542.50" y1="702.00" x2="571.50" y2="702.00" stroke="#b0b0b0" stroke-width="1.0" stroke-linecap="butt"/>
<line x1="545.20" y1="440.20" x2="545.20" y2="702.00" stroke="#8a8a8a" stroke-width="1.0" stroke-linecap="butt"/>
<polygon points="545.20,440.20 543.70,449.70 546.70,449.70" fill="#1a1a1a"/>
<polygon points="545.20,702.00 546.70,692.50 543.70,692.50" fill="#1a1a1a"/>
<text x="539.20" y="569.60" font-size="15" text-anchor="middle" fill="#1a1a1a" textLength="32.0" lengthAdjust="spacingAndGlyphs" transform="rotate(-90 539.20 569.60)">1950</text>
</g>
</svg>
</body></html>
